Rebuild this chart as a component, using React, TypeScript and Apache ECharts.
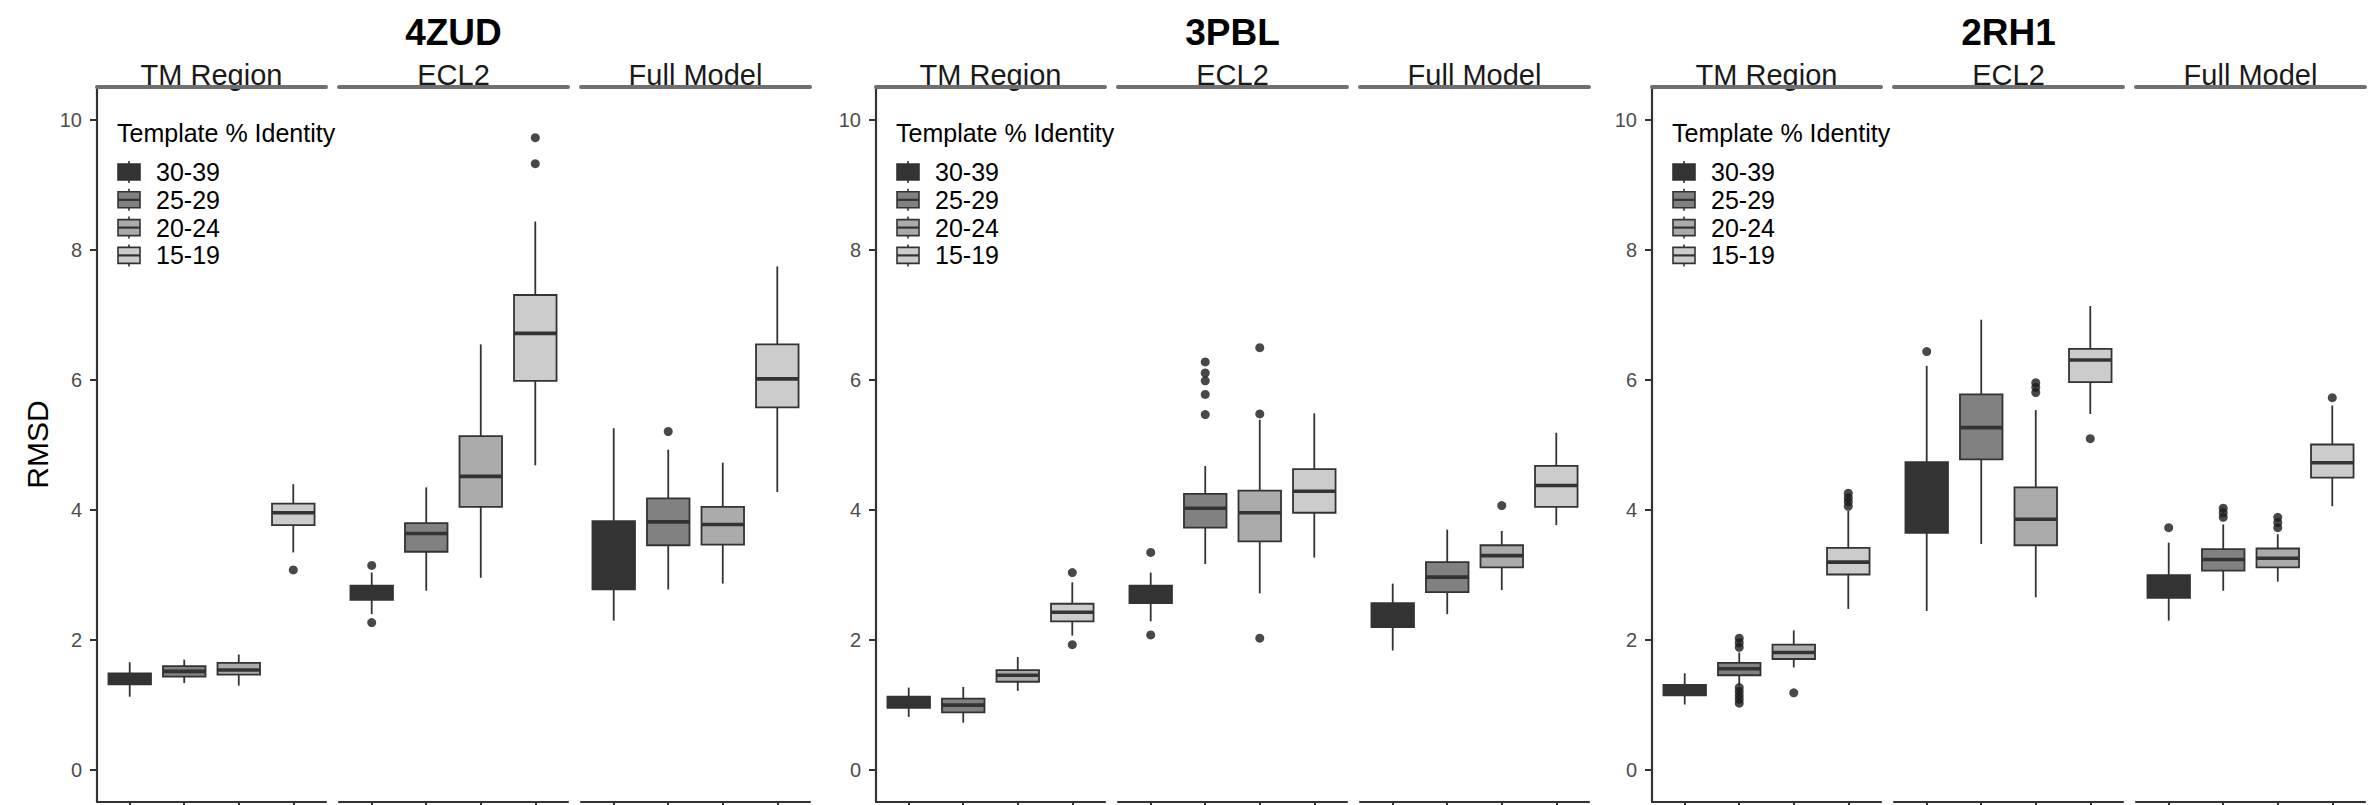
import React, { useEffect, useRef } from "react";
import * as echarts from "echarts";

const proteins = ["4ZUD", "3PBL", "2RH1"];
const regions = ["TM Region", "ECL2", "Full Model"];
const identityGroups = ["30-39", "25-29", "20-24", "15-19"];
const groupFills = ["#333333", "#818181", "#ababab", "#cccccc"];
const yTicks = [0, 2, 4, 6, 8, 10];
const xTicks = [0, 1, 2, 3];
const legendTitle = "Template % Identity";
const yTitle = "RMSD";

// [lower whisker, Q1, median, Q3, upper whisker] per region (TM, ECL2, Full) and group
const box4ZUD = [
  [[1.12, 1.31, 1.395, 1.48, 1.65], [1.33, 1.43, 1.51, 1.59, 1.69], [1.29, 1.46, 1.53, 1.64, 1.77], [3.34, 3.76, 3.95, 4.09, 4.39]],
  [[2.39, 2.61, 2.71, 2.83, 3.03], [2.75, 3.35, 3.63, 3.79, 4.34], [2.95, 4.04, 4.51, 5.13, 6.54], [4.68, 5.98, 6.71, 7.3, 8.43]],
  [[2.29, 2.77, 3.2, 3.82, 5.25], [2.77, 3.45, 3.81, 4.17, 4.92], [2.86, 3.46, 3.77, 4.04, 4.72], [4.27, 5.57, 6.01, 6.54, 7.74]],
];
const box3PBL = [
  [[0.81, 0.95, 1.03, 1.12, 1.26], [0.72, 0.88, 0.99, 1.09, 1.27], [1.21, 1.35, 1.45, 1.53, 1.73], [2.06, 2.28, 2.42, 2.55, 2.88]],
  [[2.28, 2.56, 2.75, 2.83, 3.03], [3.16, 3.72, 4.02, 4.24, 4.67], [2.71, 3.51, 3.95, 4.29, 5.38], [3.26, 3.95, 4.28, 4.62, 5.48]],
  [[1.83, 2.19, 2.4, 2.56, 2.86], [2.39, 2.73, 2.96, 3.19, 3.69], [2.76, 3.11, 3.29, 3.45, 3.67], [3.76, 4.04, 4.37, 4.67, 5.18]],
];
const box2RH1 = [
  [[1.0, 1.14, 1.22, 1.3, 1.48], [1.3, 1.45, 1.55, 1.64, 1.8], [1.57, 1.7, 1.8, 1.92, 2.14], [2.47, 3.0, 3.19, 3.41, 3.98]],
  [[2.44, 3.64, 4.2, 4.73, 6.21], [3.47, 4.77, 5.26, 5.77, 6.92], [2.65, 3.45, 3.85, 4.34, 5.53], [5.47, 5.96, 6.3, 6.47, 7.13]],
  [[2.29, 2.64, 2.8, 2.99, 3.49], [2.75, 3.06, 3.23, 3.39, 3.77], [2.89, 3.11, 3.25, 3.4, 3.62], [4.05, 4.49, 4.72, 5.0, 5.6]],
];

// outliers: [group index, value] per region
const out4ZUD = [
  [[3, 3.07]],
  [[0, 3.14], [0, 2.26], [3, 9.32], [3, 9.72]],
  [[1, 5.2]],
];
const out3PBL = [
  [[3, 3.03], [3, 1.92]],
  [[0, 3.34], [0, 2.07], [1, 5.46], [1, 5.77], [1, 5.98], [1, 6.1], [1, 6.27], [2, 5.47], [2, 6.49], [2, 2.02]],
  [[2, 4.06]],
];
const out2RH1 = [
  [[1, 1.88], [1, 1.95], [1, 2.02], [1, 1.02], [1, 1.08], [1, 1.14], [1, 1.2], [1, 1.26], [2, 1.18], [3, 4.05], [3, 4.12], [3, 4.18], [3, 4.25]],
  [[0, 6.43], [2, 5.8], [2, 5.88], [2, 5.95], [3, 5.09]],
  [[0, 3.72], [1, 3.88], [1, 3.95], [1, 4.02], [2, 3.72], [2, 3.8], [2, 3.88], [3, 5.72]],
];

const boxes = [box4ZUD, box3PBL, box2RH1];
const outliers = [out4ZUD, out3PBL, out2RH1];

const FONT = "'Liberation Sans', Arial, Helvetica, sans-serif";
const PANEL_LEFT = [97, 876, 1652];
const FACET_W = 229;
const FACET_GAP = 13;
const TOP = 87;
const HEIGHT = 715;
const LINE = "#333333";

function buildOption() {
  const grid: any[] = [];
  const xAxis: any[] = [];
  const yAxis: any[] = [];
  const series: any[] = [];
  const graphic: any[] = [];

  proteins.forEach((prot, p) => {
    const L = PANEL_LEFT[p];
    const panelW = 3 * FACET_W + 2 * FACET_GAP;
    graphic.push({
      type: "text",
      x: L + panelW / 2,
      y: 32,
      style: { text: prot, fill: "#000", font: `bold 37px ${FONT}`, textAlign: "center", textVerticalAlign: "middle" },
    });
    // legend
    graphic.push({
      type: "text",
      x: L + 20,
      y: 133,
      style: { text: legendTitle, fill: "#000", font: `25px ${FONT}`, textAlign: "left", textVerticalAlign: "middle" },
    });
    identityGroups.forEach((g, k) => {
      const ry = 172 + 27.8 * k;
      const kx = L + 21;
      graphic.push({ type: "line", shape: { x1: kx + 11, y1: ry - 11, x2: kx + 11, y2: ry + 11 }, style: { stroke: LINE, lineWidth: 1.6 } });
      graphic.push({ type: "rect", shape: { x: kx, y: ry - 8, width: 22, height: 16 }, style: { fill: groupFills[k], stroke: LINE, lineWidth: 1.6 } });
      graphic.push({ type: "line", shape: { x1: kx, y1: ry, x2: kx + 22, y2: ry }, style: { stroke: LINE, lineWidth: 2.2 } });
      graphic.push({
        type: "text",
        x: L + 59,
        y: ry,
        style: { text: g, fill: "#000", font: `25px ${FONT}`, textAlign: "left", textVerticalAlign: "middle" },
      });
    });

    regions.forEach((reg, r) => {
      const gi = grid.length;
      const left = L + r * (FACET_W + FACET_GAP);
      grid.push({ left, top: TOP, width: FACET_W, height: HEIGHT, containLabel: false });
      graphic.push({
        type: "text",
        x: left + FACET_W / 2,
        y: 75,
        style: { text: reg, fill: "#1a1a1a", font: `29px ${FONT}`, textAlign: "center", textVerticalAlign: "middle" },
      });
      // bottom axis
      xAxis.push({
        type: "value",
        gridIndex: gi,
        min: -0.6,
        max: 3.6,
        position: "bottom",
        axisLine: { show: true, onZero: false, lineStyle: { color: LINE, width: 2.2 } },
        axisTick: { show: true, customValues: xTicks, length: 6, lineStyle: { color: LINE, width: 2 } },
        axisLabel: { show: false },
        splitLine: { show: false },
      });
      // strip line on top
      xAxis.push({
        type: "value",
        gridIndex: gi,
        min: -0.6,
        max: 3.6,
        position: "top",
        axisLine: { show: true, onZero: false, lineStyle: { color: "#707070", width: 4 } },
        axisTick: { show: false },
        axisLabel: { show: false },
        splitLine: { show: false },
      });
      const showY = r === 0;
      yAxis.push({
        type: "value",
        gridIndex: gi,
        min: -0.5,
        max: 10.5,
        show: true,
        name: showY && p === 0 ? yTitle : "",
        nameLocation: "middle",
        nameGap: 45,
        nameTextStyle: { fontSize: 30, color: "#000", fontFamily: FONT },
        axisLine: { show: showY, onZero: false, lineStyle: { color: LINE, width: 2.2 } },
        axisTick: { show: showY, customValues: yTicks, length: 7, lineStyle: { color: LINE, width: 2 } },
        axisLabel: { show: showY, customValues: yTicks, fontSize: 20, color: "#4d4d4d", fontFamily: FONT, margin: 15 },
        splitLine: { show: false },
      });
      const xi = gi * 2;
      series.push({
        type: "custom",
        xAxisIndex: xi,
        yAxisIndex: gi,
        data: boxes[p][r].map((s, i) => [i, ...s]),
        encode: { x: 0, y: [1, 2, 3, 4, 5] },
        renderItem: (params: any, api: any) => {
          const i = api.value(0);
          const pLo = api.coord([i, api.value(1)]);
          const pQ1 = api.coord([i, api.value(2)]);
          const pMed = api.coord([i, api.value(3)]);
          const pQ3 = api.coord([i, api.value(4)]);
          const pHi = api.coord([i, api.value(5)]);
          const hw = api.size([0.78, 0])[0] / 2;
          const x = pLo[0];
          return {
            type: "group",
            children: [
              { type: "line", shape: { x1: x, y1: pLo[1], x2: x, y2: pQ1[1] }, style: { stroke: LINE, lineWidth: 1.8 } },
              { type: "line", shape: { x1: x, y1: pQ3[1], x2: x, y2: pHi[1] }, style: { stroke: LINE, lineWidth: 1.8 } },
              {
                type: "rect",
                shape: { x: x - hw, y: pQ3[1], width: 2 * hw, height: pQ1[1] - pQ3[1] },
                style: { fill: groupFills[i], stroke: LINE, lineWidth: 1.8 },
              },
              { type: "line", shape: { x1: x - hw, y1: pMed[1], x2: x + hw, y2: pMed[1] }, style: { stroke: LINE, lineWidth: 3.6 } },
            ],
          };
        },
      });
      series.push({
        type: "scatter",
        xAxisIndex: xi,
        yAxisIndex: gi,
        data: outliers[p][r],
        symbol: "circle",
        symbolSize: 9,
        itemStyle: { color: "#1a1a1a" },
      });
    });
  });

  return {
    animation: false,
    backgroundColor: "#ffffff",
    grid,
    xAxis,
    yAxis,
    series,
    graphic,
  };
}

export default function App() {
  const ref = useRef<HTMLDivElement>(null);
  useEffect(() => {
    document.body.style.margin = "0";
    if (!ref.current) return;
    const chart = echarts.init(ref.current, null, { renderer: "svg" });
    chart.setOption(buildOption() as any);
    return () => chart.dispose();
  }, []);
  return <div ref={ref} style={{ width: 2369, height: 805 }} />;
}
